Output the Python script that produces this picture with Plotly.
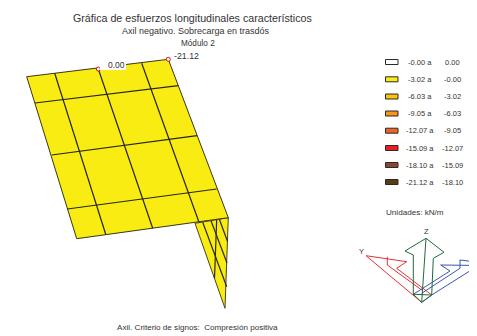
import plotly.graph_objects as go

# Legend ranges and colours
range_from = ['-0.00 a', '-3.02 a', '-6.03 a', '-9.05 a', '-12.07 a', '-15.09 a', '-18.10 a', '-21.12 a']
range_to = ['0.00', '-0.00', '-3.02', '-6.03', '-9.05', '-12.07', '-15.09', '-18.10']
range_colors = ['#ffffff', '#f8ec12', '#f6c40a', '#f7941d', '#ee6425', '#ed1c24', '#8a4630', '#5b3a17']
legend_y = [62, 79.3, 96.5, 113.5, 130.7, 148, 165, 182]

# Slab outline and mesh lines
slab_x = [26.7, 168.3, 228.3, 76.7, 26.7]
slab_y = [76.7, 59.3, 217.7, 238.7, 76.7]
slab_long = [
    ([54.7, 105.7], [73.3, 234.3]),
    ([98.3, 152.7], [69, 228.3]),
    ([141.7, 199], [63.3, 222.3]),
]
slab_cross = [
    ([35, 178.3], [103, 85.7]),
    ([51.7, 197], [155, 135.7]),
    ([67.3, 216.7], [209, 189]),
]

# Wall below the slab, seen almost edge on
wall_x = [195, 228.3, 225, 195]
wall_y = [223.3, 217.7, 308.3, 223.3]
wall_lines = [
    ([202.7, 226.7], [222.3, 286.7]),
    ([211, 227], [220.7, 263]),
    ([216.7, 214.5], [219.3, 278.3]),
    ([219.3, 227.7], [219.3, 241.7]),
]

# Marked extreme values
extreme_x = [98.3, 168.3]
extreme_y = [69, 59.3]

# Axis triad
red_lines = [
    ([421.7, 366, 406.7, 396.7, 431.7], [302.3, 255.7, 261.7, 268.3, 295]),
    ([387.3, 387.3, 421.7], [256.7, 265, 290]),
]
blue_lines = [
    ([421.7, 431.7, 480], [302.3, 295, 264.5]),
    ([413.3, 450, 440.7, 460, 480], [294.3, 271, 265, 265, 265.5]),
    ([421.7, 460, 460, 480], [293.3, 268.3, 260, 262.5]),
]
green_lines = [
    ([421.7, 413.3, 413.3, 405, 426, 444, 433.3, 431.7, 421.7], [302.3, 294.3, 255, 251, 238.3, 252.3, 258.3, 295, 302.3]),
    ([426, 421.7], [238.3, 302.3]),
    ([413.3, 431.7], [294.3, 295]),
]

fig = go.Figure()


def add_line(xs, ys, color, width=1.0):
    fig.add_trace(go.Scatter(x=xs, y=ys, mode='lines', line=dict(color=color, width=width), hoverinfo='skip'))


# Wall first, the slab sits on top of it
fig.add_trace(go.Scatter(x=wall_x, y=wall_y, mode='lines', fill='toself', fillcolor='#f8ec12',
                         line=dict(color='#4a4420', width=1), hoverinfo='skip'))
for xs, ys in wall_lines:
    add_line(xs, ys, '#2a2a1a', 1.2)

fig.add_trace(go.Scatter(x=slab_x, y=slab_y, mode='lines', fill='toself', fillcolor='#f8ec12',
                         line=dict(color='#3a3618', width=1), hoverinfo='skip'))
for xs, ys in slab_long + slab_cross:
    add_line(xs, ys, '#26241a', 1.2)

for xs, ys in red_lines:
    add_line(xs, ys, '#e8303a')
for xs, ys in blue_lines:
    add_line(xs, ys, '#3a55b0')
for xs, ys in green_lines:
    add_line(xs, ys, '#1f6b3a')

fig.add_trace(go.Scatter(x=extreme_x, y=extreme_y, mode='markers', hoverinfo='skip',
                         marker=dict(size=4, color='white', line=dict(color='#e01020', width=1))))

# Legend swatches, plus the white box behind the 0.00 label
shapes = [dict(type='rect', xref='x', yref='y', x0=99.8, x1=126, y0=60.5, y1=70, fillcolor='white', line=dict(width=0))]
for y, color in zip(legend_y, range_colors):
    shapes.append(dict(type='rect', xref='x', yref='y', x0=385.5, x1=398, y0=y - 2.5, y1=y + 2.5,
                       fillcolor=color, line=dict(color='#2a2a2a', width=1)))

FONT = 'Liberation Sans, Arial, sans-serif'


def label(x, y, text, size=7.5, color='#333333'):
    return dict(x=x, y=y, xref='x', yref='y', text=text, showarrow=False, xanchor='center', yanchor='middle',
                font=dict(family=FONT, size=size, color=color))


notes = [
    label(192, 18, 'Gráfica de esfuerzos longitudinales característicos', 10.7),
    label(196, 31, 'Axil negativo. Sobrecarga en trasdós', 9),
    label(197.5, 43, 'Módulo 2', 8.2),
    label(116.5, 64.7, '0.00', 8.5),
    label(186.5, 56, '-21.12', 8.8),
    label(414.7, 212.3, 'Unidades: kN/m', 8.1),
    label(197.5, 327.3, 'Axil. Criterio de signos:  Compresión positiva', 8.1),
    label(426, 231.7, 'Z', 7.5),
    label(361, 251.7, 'Y', 7.5),
]
for y, a, b in zip(legend_y, range_from, range_to):
    notes.append(label(420, y, a))
    notes.append(label(452, y, b))

# The page keeps an 8px body margin, so the plot is 8px smaller and the ranges start at 8
fig.update_layout(
    width=469,
    height=328,
    margin=dict(l=0, r=0, t=0, b=0),
    paper_bgcolor='white',
    plot_bgcolor='white',
    showlegend=False,
    shapes=shapes,
    annotations=notes,
    xaxis=dict(range=[8, 477], visible=False, fixedrange=True),
    yaxis=dict(range=[336, 8], visible=False, fixedrange=True),
)

fig.write_html('out.html', config=dict(displayModeBar=False))
